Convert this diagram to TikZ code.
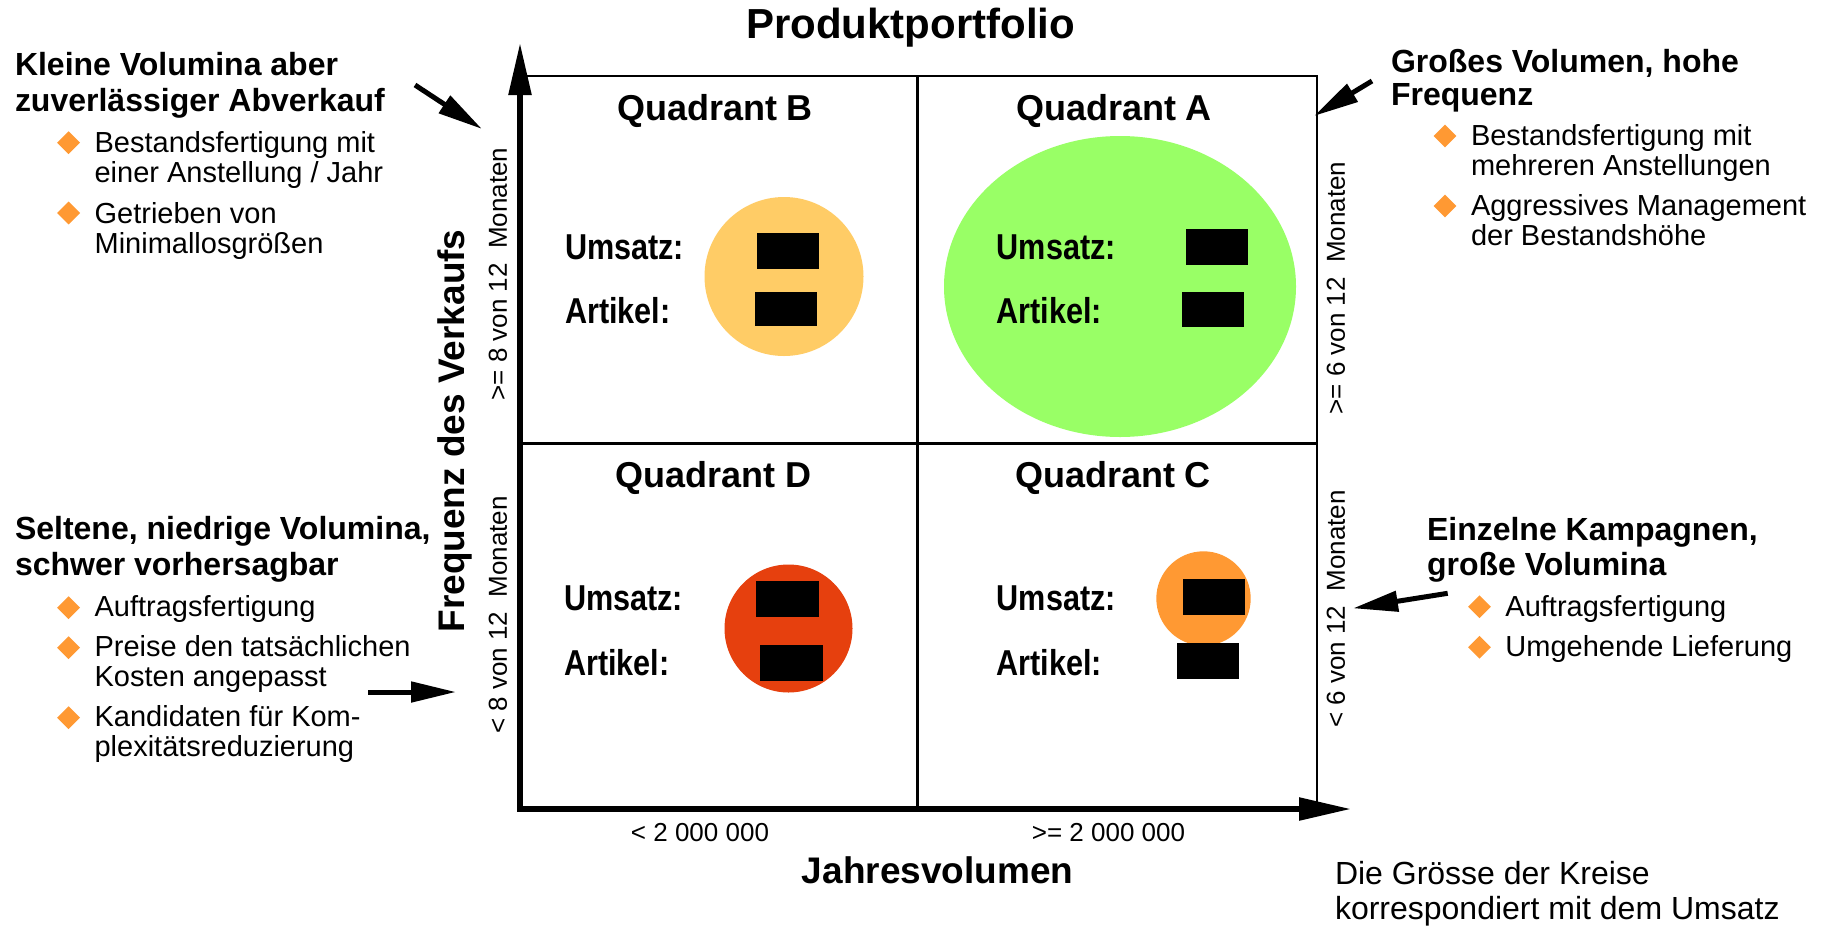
\documentclass[tikz,border=0pt]{standalone}
\usepackage{fontspec}
\setmainfont{Liberation Sans}
\newfontfamily\narrowsans[FakeStretch=0.85]{Liberation Sans}
\usetikzlibrary{arrows.meta,shapes.geometric}
\definecolor{bulletorange}{RGB}{255,153,51}
\definecolor{fillB}{RGB}{255,204,102}
\definecolor{fillA}{RGB}{153,255,102}
\definecolor{fillD}{RGB}{230,64,14}
\definecolor{fillC}{RGB}{255,153,51}

\begin{document}
% multi-line nodes are placed by the baseline of their last line
\begin{tikzpicture}[x=1pt,y=-1pt,
  txt/.style={inner sep=0pt, outer sep=0pt},
  heading/.style={txt, anchor=base west, align=left, font=\bfseries\fontsize{32}{36}\selectfont},
  itemtext/.style={txt, anchor=base west, align=left, font=\fontsize{29}{30}\selectfont},
  bullet/.style={diamond, fill=bulletorange, inner sep=0pt, minimum width=23pt, minimum height=23pt},
  qtitle/.style={txt, anchor=base, font=\bfseries\fontsize{36}{40}\selectfont},
  field/.style={txt, anchor=base west, font=\narrowsans\bfseries\fontsize{36}{40}\selectfont},
  redact/.style={fill=black},
  small/.style={txt, font=\fontsize{26}{30}\selectfont},
  axislabel/.style={txt, font=\bfseries\fontsize{37}{40}\selectfont},
  pointer/.style={line width=5pt, -{Triangle[length=45pt,width=20pt]}},
  axisline/.style={line width=5.5pt, line join=miter,
    {Triangle[length=52pt,width=22pt]}-{Triangle[length=52pt,width=22pt]}},
  gridline/.style={line width=2.5pt}
]
\useasboundingbox (0,0) rectangle (1826,927);
\fill[white] (0,0) rectangle (1826,927);

% title
\node[txt, anchor=base, font=\bfseries\fontsize{42}{46}\selectfont] (title) at (910.6,38) {Produktportfolio};

% bubbles (size follows revenue)
\fill[fillB] (784,276.5) circle[radius=79.5];
\fill[fillA] (1120,286.5) ellipse[x radius=176, y radius=150.5];
\fill[fillD] (788.5,628.5) circle[radius=64];
\fill[fillC] (1203.5,598.5) circle[radius=47.2];

% quadrant frame
\coordinate (TL) at (520,76);
\coordinate (TR) at (1317,76);
\coordinate (BR) at (1317,809);
\coordinate (TM) at (917.6,76);
\coordinate (BM) at (917.6,809);
\coordinate (LM) at (520,443.7);
\coordinate (RM) at (1317,443.7);
\draw[gridline] (TL) -- (TR) -- (BR);
\draw[gridline] (TM) -- (BM);
\draw[gridline] (LM) -- (RM);

% axes
\coordinate (O) at (520,809);
\coordinate (ytip) at (520,43);
\coordinate (xtip) at (1351,809);
\draw[axisline] (ytip) -- (O) -- (xtip);

% quadrant titles
\node[qtitle] (qB) at (715,120) {Quadrant B};
\node[qtitle] (qA) at (1114,120) {Quadrant A};
\node[qtitle] (qD) at (713.6,487) {Quadrant D};
\node[qtitle] (qC) at (1113,487) {Quadrant C};

% figures per quadrant
\node[field] (uB) at (565,259) {Umsatz:};
\node[field] (aB) at (565,323) {Artikel:};
\node[field] (uA) at (996.7,259) {Umsatz:};
\node[field] (aA) at (996.7,323) {Artikel:};
\node[field] (uD) at (564,610.7) {Umsatz:};
\node[field] (aD) at (564,675) {Artikel:};
\node[field] (uC) at (996.7,610.7) {Umsatz:};
\node[field] (aC) at (996.7,675) {Artikel:};

\fill[redact] (757,233) rectangle (819,269);
\fill[redact] (755,292) rectangle (817,326);
\fill[redact] (1186,229) rectangle (1248,265);
\fill[redact] (1182,292) rectangle (1244,327);
\fill[redact] (756,581) rectangle (819,617);
\fill[redact] (760,645) rectangle (823,681);
\fill[redact] (1183,579) rectangle (1245,615);
\fill[redact] (1177,643) rectangle (1239,679);

% axis labels
\node[small, rotate=90] (yhi) at (498,274) {>= 8 von 12~~Monaten};
\node[small, rotate=90] (ylo) at (498,615) {< 8 von 12~~Monaten};
\node[small, rotate=90] (yhiR) at (1336,288) {>= 6 von 12~~Monaten};
\node[small, rotate=90] (yloR) at (1336,609) {< 6 von 12~~Monaten};
\node[axislabel, rotate=90] (ytitle) at (455,431) {Frequenz des Verkaufs};
\node[small, anchor=base] (xlo) at (700,841) {< 2 000 000};
\node[small, anchor=base] (xhi) at (1108.5,841) {>= 2 000 000};
\node[axislabel, anchor=base] (xtitle) at (937.6,883) {Jahresvolumen};

% top left: quadrant B
\node[heading] (hB) at (15,111) {Kleine Volumina aber\\zuverlässiger Abverkauf};
\node[bullet] (b1) at (68.6,142.7) {};
\node[itemtext] (t1) at (94.6,182.7) {Bestandsfertigung mit\\einer Anstellung / Jahr};
\node[bullet] (b2) at (68.6,213) {};
\node[itemtext] (t2) at (94.6,253) {Getrieben von\\Minimallosgrößen};
\coordinate (pB0) at (415,85);
\coordinate (pB1) at (482,129);
\draw[pointer] (pB0) -- (pB1);

% top right: quadrant A
\node[heading, font=\bfseries\fontsize{32}{33}\selectfont] (hA) at (1391,105) {Großes Volumen, hohe\\Frequenz};
\node[bullet] (b3) at (1445,136) {};
\node[itemtext] (t3) at (1471,175) {Bestandsfertigung mit\\mehreren Anstellungen};
\node[bullet] (b4) at (1445,206) {};
\node[itemtext] (t4) at (1471,245) {Aggressives Management\\der Bestandshöhe};
\coordinate (pA0) at (1372,81);
\coordinate (pA1) at (1314,116);
\draw[pointer] (pA0) -- (pA1);

% bottom left: quadrant D
\node[heading] (hD) at (15,575) {Seltene, niedrige Volumina,\\schwer vorhersagbar};
\node[bullet] (b5) at (68.6,607.7) {};
\node[itemtext] (t5) at (94.6,616.7) {Auftragsfertigung};
\node[bullet] (b6) at (68.6,647.7) {};
\node[itemtext] (t6) at (94.6,686.7) {Preise den tatsächlichen\\Kosten angepasst};
\node[bullet] (b7) at (68.6,717.7) {};
\node[itemtext] (t7) at (94.6,756.7) {Kandidaten für Kom-\\plexitätsreduzierung};
\coordinate (pD0) at (368,692);
\coordinate (pD1) at (456,692);
\draw[pointer] (pD0) -- (pD1);

% bottom right: quadrant C
\node[heading, font=\bfseries\fontsize{32}{35}\selectfont] (hC) at (1427,575) {Einzelne Kampagnen,\\große Volumina};
\node[bullet] (b8) at (1479.5,606.7) {};
\node[itemtext] (t8) at (1505.4,616.7) {Auftragsfertigung};
\node[bullet] (b9) at (1479.5,647.3) {};
\node[itemtext] (t9) at (1505.4,656.7) {Umgehende Lieferung};
\coordinate (pC0) at (1447.7,593.3);
\coordinate (pC1) at (1353,608.3);
\draw[pointer] (pC0) -- (pC1);

% note
\node[txt, anchor=base west, align=left, font=\fontsize{32}{35}\selectfont] (note) at (1335,919) {Die Grösse der Kreise\\korrespondiert mit dem Umsatz};
\end{tikzpicture}
\end{document}
